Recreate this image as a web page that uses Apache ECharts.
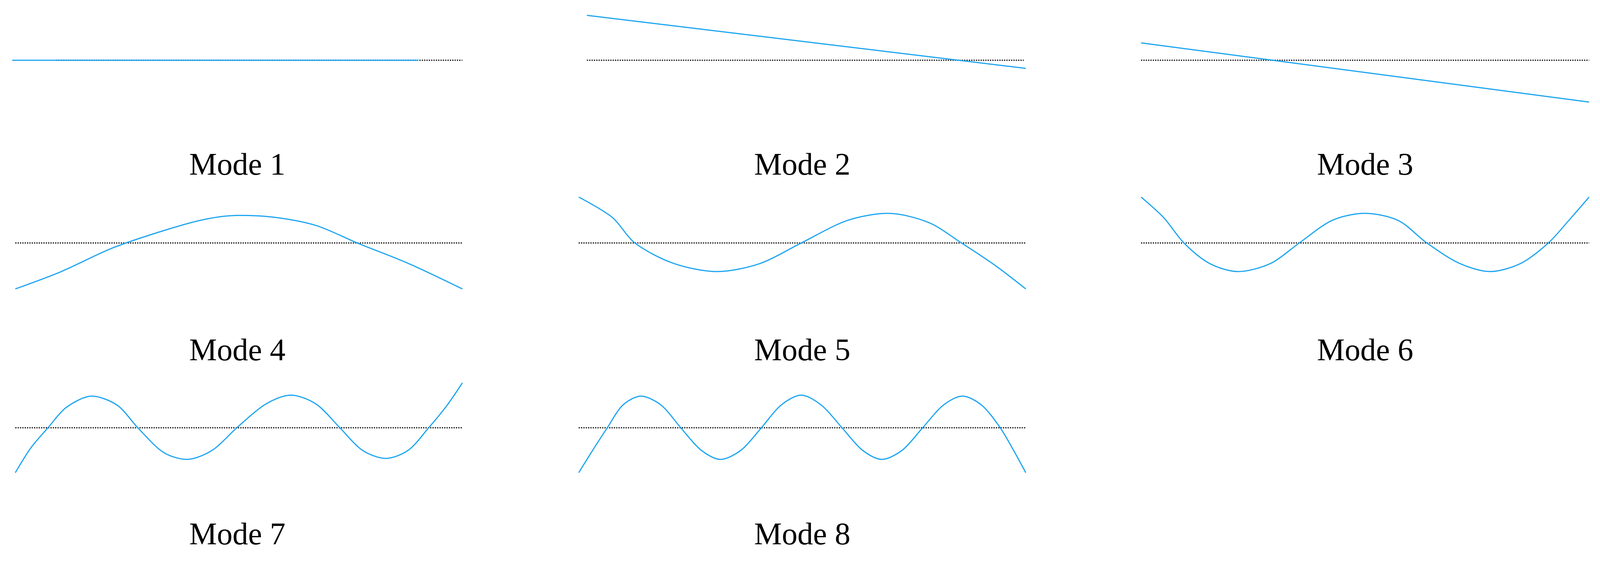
<!DOCTYPE html>
<html><head><meta charset="utf-8">
<script src="https://cdn.jsdelivr.net/npm/echarts@6/dist/echarts.min.js"></script>
<style>html,body{margin:0;background:#fff;overflow:hidden}#c{width:4130px;height:1446px}</style>
</head><body><div id="c"></div>
<script>
const SY = 4130/1568*0.992;
const SX = 4130/1568*0.992;
const modeLabels = ["Mode 1","Mode 2","Mode 3","Mode 4","Mode 5","Mode 6","Mode 7","Mode 8"];
const mode1 = [[12,0],[410,0]];
const mode2 = [[575,44],[1005,-8]];
const mode3 = [[1118,17],[1557,-41]];
const mode4 = [[15,-45],[60,-28],[110,-5],[160,12],[200,23],[234,27],[270,25],[310,17],[350,0],[400,-20],[453,-45]];
const mode5 = [[567,45],[600,25],[622,0],[660,-20],[703,-28],[745,-20],[785,0],[830,22],[870,29],[910,20],[942,0],[975,-22],[1005,-45]];
const mode6 = [[1118,45],[1140,25],[1160,0],[1185,-20],[1213,-28],[1245,-20],[1273,0],[1305,22],[1337,29],[1370,22],[1398,0],[1430,-20],[1460,-28],[1490,-20],[1517,0],[1537,22],[1557,45]];
const mode7 = [[15,-44],[30,-20],[47,0],[65,20],[90,31],[115,22],[135,0],[160,-24],[183,-31],[208,-22],[232,0],[260,23],[285,32],[310,23],[333,0],[355,-22],[378,-30],[400,-22],[420,0],[438,22],[453,44]];
const mode8 = [[567,-44],[582,-20],[595,0],[610,22],[628,31],[648,22],[667,0],[687,-22],[706,-31],[726,-22],[746,0],[765,22],[785,32],[805,22],[825,0],[845,-22],[864,-31],[884,-22],[904,0],[924,22],[943,31],[962,22],[980,0],[993,-22],[1005,-44]];
const modes = [mode1,mode2,mode3,mode4,mode5,mode6,mode7,mode8];
const baselines = [[[55,0],[453,0]],[[575,0],[1003,0]],[[1118,0],[1557,0]],
  [[15,0],[453,0]],[[567,0],[1005,0]],[[1118,0],[1557,0]],
  [[15,0],[453,0]],[[567,0],[1005,0]]];
const cols = [[12,453],[567,1005],[1118,1557]];
const rowBase = [59,238,419];
const labelY = [163,345,525];

const grid=[],xAxis=[],yAxis=[],series=[],graphic=[];
modes.forEach((d,i)=>{
  const r=Math.floor(i/3), c=i%3;
  const [x0,x1]=cols[c];
  grid.push({left:x0*SX,width:(x1-x0)*SX,top:(rowBase[r]-50)*SY,height:100*SY});
  xAxis.push({gridIndex:i,type:'value',min:x0,max:x1,show:false});
  yAxis.push({gridIndex:i,type:'value',min:-50,max:50,show:false});
  series.push({type:'line',xAxisIndex:i,yAxisIndex:i,data:baselines[i],symbol:'none',silent:true,
    lineStyle:{color:'#000',width:3,type:[3,3]}});
  series.push({type:'line',xAxisIndex:i,yAxisIndex:i,data:d,symbol:'none',smooth:i>2?0.3:false,silent:true,
    lineStyle:{color:'#1ea5f0',width:3}});
  graphic.push({type:'text',x:((x0+x1)/2)*SX,y:labelY[r]*SY,
    style:{text:modeLabels[i],textAlign:'center',textVerticalAlign:'middle',
    font:'80px "Liberation Serif", "DejaVu Serif", serif',fill:'#000'}});
});
const chart=echarts.init(document.getElementById('c'));
chart.setOption({animation:false,grid,xAxis,yAxis,series,graphic});
</script></body></html>
